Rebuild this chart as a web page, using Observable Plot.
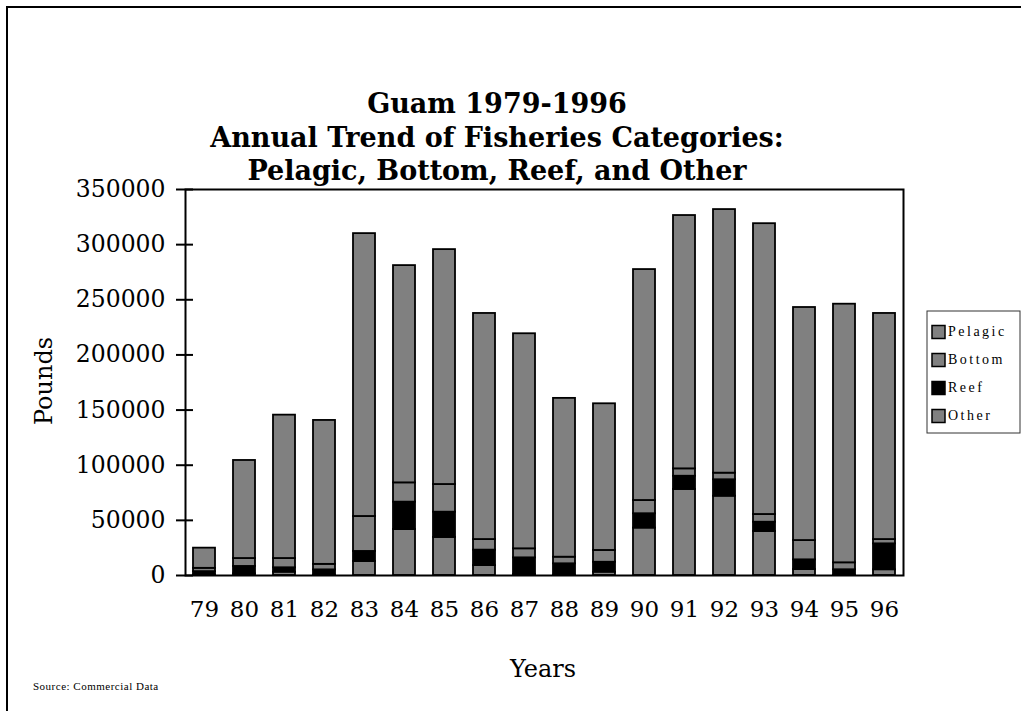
<!DOCTYPE html>
<html>
<head>
<meta charset="utf-8">
<script src="https://cdn.jsdelivr.net/npm/d3@7"></script>
<script src="https://cdn.jsdelivr.net/npm/@observablehq/plot@0.6"></script>
<style>
  body { margin: 0; background: #fff; }
  #wrap { position: relative; width: 1021px; height: 711px; overflow: hidden; background: #fff; }
  #outer { position: absolute; left: 6px; top: 6px; width: 1100px; height: 800px;
           border-left: 2px solid #000; border-top: 2px solid #000; pointer-events: none; }
  #wrap svg { position: absolute; left: 0; top: 0; }
</style>
</head>
<body>
<div id="wrap"><div id="outer"></div></div>
<script>
// ---- data (pounds) ----
const years   = ["79","80","81","82","83","84","85","86","87","88","89","90","91","92","93","94","95","96"];
const other   = [500, 1500, 3000, 300, 12700, 41700, 34500, 9000, 1000, 300, 3000, 43000, 78000, 71900, 39900, 5400, 200, 5200];
const reef    = [3000, 6700, 4000, 4800, 9100, 24800, 22900, 14000, 15000, 10300, 9000, 13000, 12000, 14900, 8400, 8800, 5000, 23500];
const bottom  = [3000, 7200, 8400, 5000, 31700, 17500, 25100, 9600, 8200, 6000, 10700, 12000, 6700, 6000, 7000, 17500, 6300, 3900];
const pelagic = [18300, 88900, 130000, 130500, 256500, 197000, 213000, 205000, 195000, 144000, 133000, 209400, 229700, 239000, 263700, 211300, 234500, 205000];
const legendOrder = ["Pelagic", "Bottom", "Reef", "Other"];
const stackOrder  = ["Other", "Reef", "Bottom", "Pelagic"];
const colors = {Pelagic: "#808080", Bottom: "#808080", Reef: "#000000", Other: "#808080"};
const yTicks = [0, 50000, 100000, 150000, 200000, 250000, 300000, 350000];
const titleLines = ["Guam 1979-1996", "Annual Trend of Fisheries Categories:", "Pelagic, Bottom, Reef, and Other"];

const series = {Other: other, Reef: reef, Bottom: bottom, Pelagic: pelagic};
const table = years.flatMap((yr, i) => stackOrder.map(cat => ({year: yr, cat, value: series[cat][i]})));

const serif = '"DejaVu Serif", serif';
const chart = Plot.plot({
  width: 1021, height: 711,
  marginLeft: 185, marginRight: 118, marginTop: 189, marginBottom: 136,
  style: {fontFamily: serif, fontSize: "23px", background: "transparent", color: "#000", overflow: "visible"},
  x: {domain: years, paddingInner: 0.44, paddingOuter: 0.19, label: null},
  y: {domain: [0, 350000], label: null},
  marks: [
    Plot.barY(table, {x: "year", y: "value", z: "cat", order: stackOrder,
      fill: d => colors[d.cat], stroke: "#000", strokeWidth: 1.8}),
    Plot.frame({stroke: "#000", strokeWidth: 2}),
    Plot.axisY({ticks: yTicks, tickSize: 9, tickPadding: 11, tickFormat: d => String(d), strokeWidth: 2, label: null, fontSize: 23.5}),
    Plot.axisY({ticks: yTicks, tickSize: 8, dx: 8, tickFormat: () => "", strokeWidth: 2, label: null}),
    Plot.axisX({tickSize: 0, tickPadding: 25, label: null})
  ]
});
document.getElementById("wrap").appendChild(chart);

const svg = d3.select(chart);
// title
svg.append("g").selectAll("text").data(titleLines).join("text")
  .attr("x", 497).attr("y", (d, i) => 113 + i * 33.5)
  .attr("text-anchor", "middle").attr("font-weight", "bold")
  .attr("font-size", 27).attr("font-family", serif).attr("fill", "#000")
  .text(d => d);
// axis titles
svg.append("text").attr("transform", "translate(52,381) rotate(-90)")
  .attr("text-anchor", "middle").attr("font-size", 24).attr("font-family", serif).text("Pounds");
svg.append("text").attr("x", 543).attr("y", 677)
  .attr("text-anchor", "middle").attr("font-size", 24).attr("font-family", serif).text("Years");
// source
svg.append("text").attr("x", 33).attr("y", 690).attr("text-anchor", "start")
  .attr("font-size", 11).attr("font-family", '"Liberation Serif", serif').attr("letter-spacing", "0.5px")
  .text("Source: Commercial Data");
// legend
const lg = svg.append("g");
lg.append("rect").attr("x", 927).attr("y", 311).attr("width", 93).attr("height", 122)
  .attr("fill", "#fff").attr("stroke", "#333").attr("stroke-width", 1);
const items = lg.selectAll("g.item").data(legendOrder).join("g")
  .attr("transform", (d, i) => `translate(0,${332 + i * 28})`);
items.append("rect").attr("x", 932).attr("y", -6.5).attr("width", 13).attr("height", 13)
  .attr("fill", d => colors[d]).attr("stroke", "#000").attr("stroke-width", 1.5);
items.append("text").attr("x", 948).attr("y", 4).attr("text-anchor", "start").attr("font-size", 14)
  .attr("font-family", '"Liberation Serif", serif').attr("letter-spacing", "2.5px").text(d => d);
</script>
</body>
</html>
